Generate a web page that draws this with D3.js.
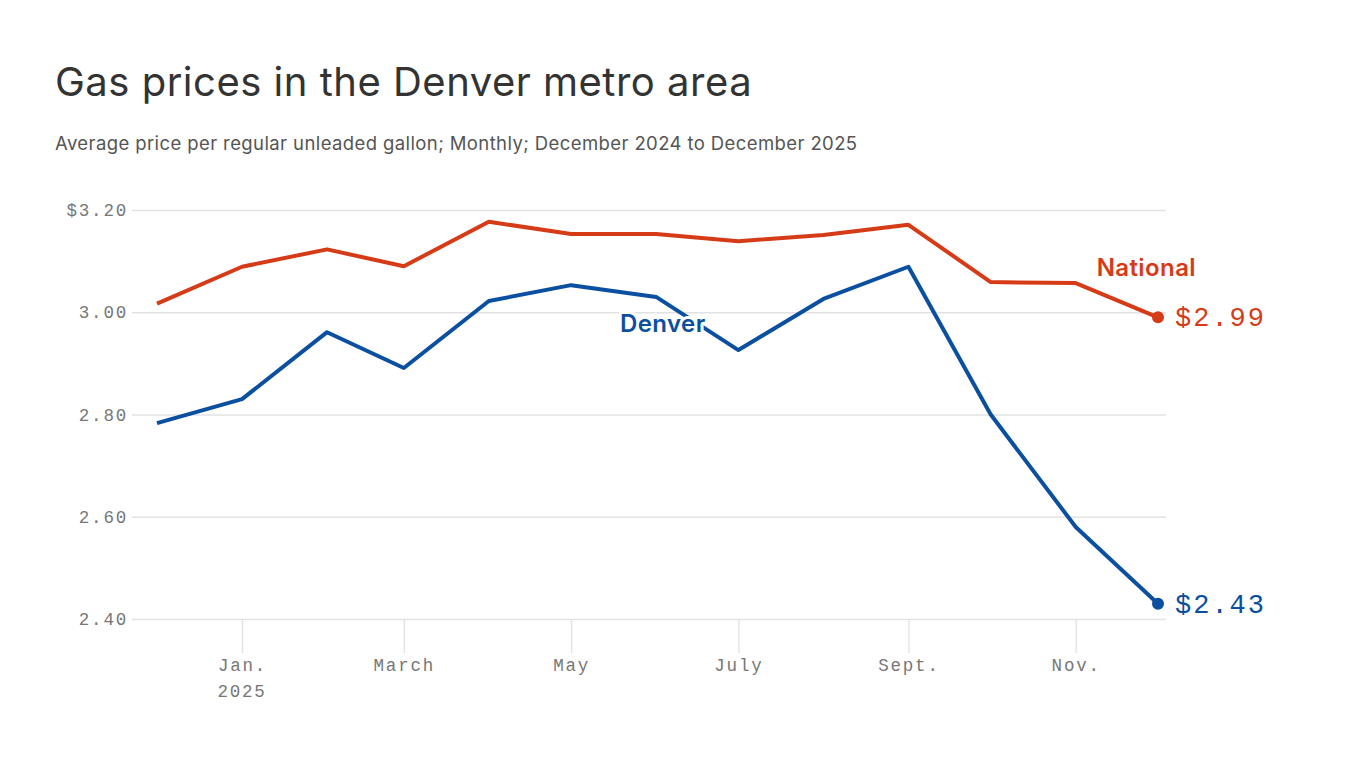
<!DOCTYPE html>
<html>
<head>
<meta charset="utf-8">
<script src="https://cdn.jsdelivr.net/npm/d3@7"></script>
<style>
  body { margin: 0; background: #fff; }
  .title { font-family: Inter, "Noto Sans", sans-serif; }
  .mono { font-family: "Liberation Mono", "DejaVu Sans Mono", monospace; }
</style>
</head>
<body>
<div id="chart"></div>
<script>
// monthly readings, first of each month
var months = ["2024-12-01", "2025-01-01", "2025-02-01", "2025-03-01", "2025-04-01", "2025-05-01",
  "2025-06-01", "2025-07-01", "2025-08-01", "2025-09-01", "2025-10-01", "2025-11-01", "2025-12-01"];
var national = [3.017, 3.089, 3.123, 3.090, 3.177, 3.153, 3.153, 3.139, 3.151, 3.171, 3.059, 3.057, 2.99];
var denver = [2.783, 2.830, 2.961, 2.891, 3.022, 3.053, 3.030, 2.926, 3.026, 3.089, 2.800, 2.580, 2.43];
var yTicks = [2.4, 2.6, 2.8, 3.0, 3.2];
var xTicks = ["2025-01-01", "2025-03-01", "2025-05-01", "2025-07-01", "2025-09-01", "2025-11-01"];
var xTickLabels = ["Jan.", "March", "May", "July", "Sept.", "Nov."];

var W = 1366, H = 768;
var parse = d3.timeParse("%Y-%m-%d");
var dates = months.map(parse);

var svg = d3.select("#chart").append("svg")
  .attr("width", W).attr("height", H);

svg.append("text").attr("class", "title")
  .attr("x", 55).attr("y", 96)
  .attr("font-size", 40).attr("fill", "#333")
  .attr("letter-spacing", 0.5)
  .text("Gas prices in the Denver metro area");

svg.append("text").attr("class", "title")
  .attr("x", 55).attr("y", 150)
  .attr("font-size", 18.5).attr("fill", "#555")
  .attr("letter-spacing", 0.4)
  .text("Average price per regular unleaded gallon; Monthly; December 2024 to December 2025");

var x = d3.scaleTime()
  .domain([dates[0], dates[dates.length - 1]])
  .range([157, 1158]);

var y = d3.scaleLinear()
  .domain([2.4, 3.2])
  .range([619, 210]);

// gridlines + y labels
var yAxis = svg.append("g").attr("transform", "translate(132,0)")
  .call(d3.axisLeft(y).tickValues(yTicks).tickSize(-1034).tickPadding(4)
    .tickFormat(function(d) { return d == 3.2 ? "$3.20" : d3.format(".2f")(d); }));
yAxis.select(".domain").remove();
yAxis.selectAll("line").attr("stroke", "#e2e2e2").attr("stroke-width", 1.3);
yAxis.selectAll("text").attr("class", "mono")
  .attr("font-size", 17.5).attr("fill", "#777").attr("letter-spacing", 1.8);

// x ticks
var xAxis = svg.append("g").attr("transform", "translate(0,619)")
  .call(d3.axisBottom(x).tickValues(xTicks.map(parse)).tickSize(34).tickPadding(6)
    .tickFormat(function(d, i) { return xTickLabels[i]; }));
xAxis.select(".domain").remove();
xAxis.selectAll("line").attr("stroke", "#e2e2e2").attr("stroke-width", 1.3);
xAxis.selectAll("text").attr("class", "mono")
  .attr("font-size", 17.5).attr("fill", "#777").attr("letter-spacing", 1.8);

xAxis.append("text").attr("class", "mono")
  .attr("x", x(parse("2025-01-01"))).attr("y", 78)
  .attr("text-anchor", "middle")
  .attr("font-size", 17.5).attr("fill", "#777").attr("letter-spacing", 1.8)
  .text("2025");

var line = d3.line()
  .x(function(d, i) { return x(dates[i]); })
  .y(function(d) { return y(d); });

var series = [
  {name: "National", values: national, color: "#d63b17"},
  {name: "Denver", values: denver, color: "#0b4fa0"}
];

series.forEach(function(s) {
  svg.append("path")
    .datum(s.values)
    .attr("d", line)
    .attr("fill", "none")
    .attr("stroke", s.color)
    .attr("stroke-width", 4)
    .attr("stroke-linejoin", "round");
  var last = s.values[s.values.length - 1];
  svg.append("circle")
    .attr("cx", x(dates[dates.length - 1]))
    .attr("cy", y(last))
    .attr("r", 6)
    .attr("fill", s.color);
  svg.append("text").attr("class", "mono")
    .attr("x", x(dates[dates.length - 1]) + 17)
    .attr("y", y(last) + 9)
    .attr("font-size", 27).attr("fill", s.color).attr("letter-spacing", 2)
    .text("$" + d3.format(".2f")(last));
});

// series labels
svg.append("text").attr("class", "title")
  .attr("x", 1196).attr("y", 276)
  .attr("text-anchor", "end")
  .attr("font-size", 24).attr("font-weight", 600).attr("fill", "#d63b17")
  .attr("letter-spacing", 0.4)
  .text("National");

svg.append("text").attr("class", "title")
  .attr("x", 620).attr("y", 332)
  .attr("font-size", 24).attr("font-weight", 600).attr("fill", "#0b4fa0")
  .attr("letter-spacing", 0.4)
  .attr("stroke", "#fff").attr("stroke-width", 6).attr("paint-order", "stroke")
  .attr("stroke-linejoin", "round")
  .text("Denver");
</script>
</body>
</html>
